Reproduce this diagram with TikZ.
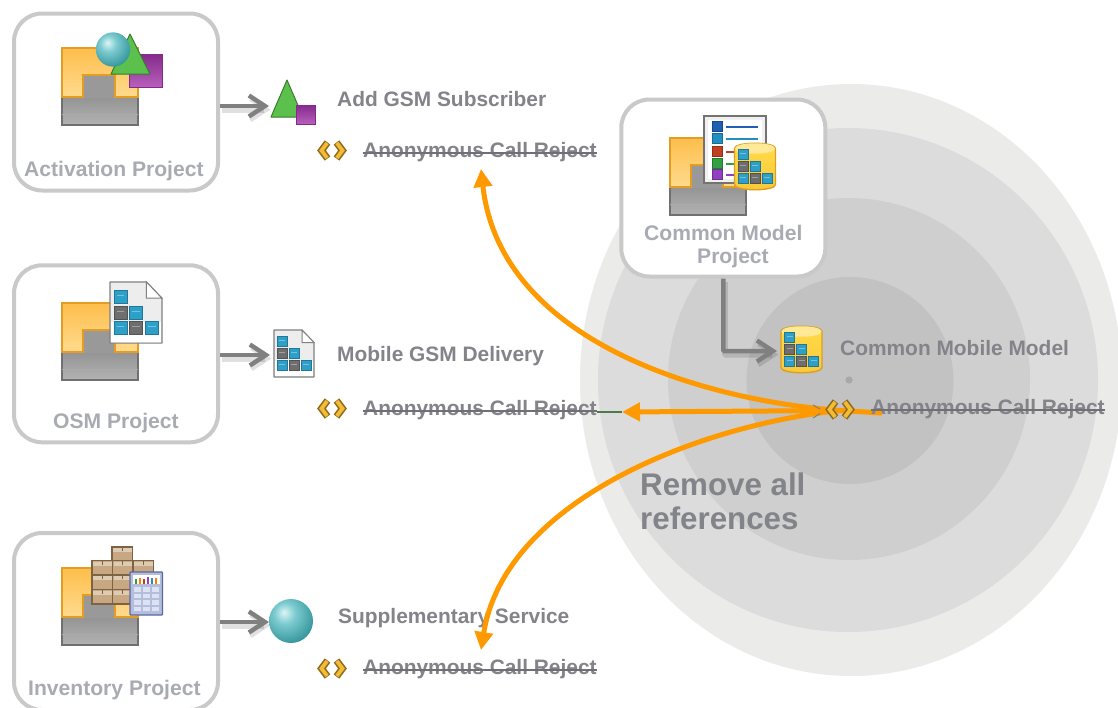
\documentclass[tikz,border=0pt]{standalone}
\usepackage{fontspec}
\setmainfont{Liberation Sans}
\usetikzlibrary{arrows.meta}
\definecolor{ringa}{HTML}{EBEBEA}
\definecolor{ringb}{HTML}{DCDCDC}
\definecolor{ringc}{HTML}{CFCFCF}
\definecolor{ringd}{HTML}{C2C2C2}
\definecolor{boxline}{HTML}{C9C9C9}
\definecolor{lblc}{HTML}{83838A}
\definecolor{prjc}{HTML}{A9ABB2}
\definecolor{arrowc}{HTML}{808080}
\definecolor{orangec}{HTML}{FF9900}
\definecolor{cellb}{HTML}{2E9FC9}
\definecolor{cellg}{HTML}{6E6E6E}
\definecolor{purp}{HTML}{B860BC}
\definecolor{purpd}{HTML}{842A8C}
\definecolor{grn}{HTML}{5CC04C}
\definecolor{grnd}{HTML}{3A7A30}
\definecolor{tan}{HTML}{C8A882}
\definecolor{tand}{HTML}{7E6244}
\definecolor{sa}{HTML}{DDF5F5}
\definecolor{sb}{HTML}{7CCBD0}
\definecolor{sc}{HTML}{38989E}
\definecolor{sd}{HTML}{1F7F85}
\definecolor{yeltop}{HTML}{FDBE4C}
\definecolor{yelbot}{HTML}{FFDB8E}
\definecolor{yelline}{HTML}{E49C22}
\definecolor{tagd}{HTML}{8C6A1E}
\definecolor{tagg}{HTML}{F4BC34}
\definecolor{cyltop}{HTML}{FFE896}
\definecolor{cylmid}{HTML}{FFDC48}
\definecolor{cylbot}{HTML}{FBC838}
\definecolor{cylline}{HTML}{D9A024}
\definecolor{calcf}{HTML}{B4BEDC}
\definecolor{calcl}{HTML}{5A68A0}
\definecolor{calck}{HTML}{DCE2F2}
\definecolor{rowa}{HTML}{1F5FB4}
\definecolor{rowb}{HTML}{2090C0}
\definecolor{rowc}{HTML}{C04020}
\definecolor{rowd}{HTML}{30A040}
\definecolor{rowe}{HTML}{9040C0}
\pgfdeclareradialshading{sphereshade}{\pgfpoint{-8bp}{10bp}}{color(0bp)=(sa); color(12bp)=(sb); color(32bp)=(sc); color(50bp)=(sd); color(100bp)=(sd)}
\newcommand{\mycell}[3]{\draw[draw=#3!75!black,fill=#3,line width=.8pt] (#1,#2) rectangle +(10,10);
  \draw[draw=white,opacity=.35,line width=.8pt] (#1+2,#2+4) -- +(6,0);}
\tikzset{
  projbox/.style={draw=boxline,line width=4pt,fill=white,rounded corners=28pt,minimum width=204pt,minimum height=177pt,inner sep=0pt,outer sep=2pt},
  iconslot/.style={inner sep=0pt,outer sep=0pt,minimum width=#1,minimum height=40pt},
  lbl/.style={anchor=base west,inner sep=0pt,text=lblc,font=\bfseries\fontsize{20.9}{24}\selectfont},
  prj/.style={anchor=base west,inner sep=0pt,text=prjc,font=\bfseries\fontsize{21.1}{24}\selectfont},
  bigl/.style={anchor=base west,inner sep=0pt,text=lblc,font=\bfseries\fontsize{31.3}{36}\selectfont},
  strike/.style={draw=lblc!85!black,line width=1.3pt},
  flowarrow/.style={draw=arrowc,line width=4.5pt,-{Straight Barb[length=16pt,width=21pt,line width=4.5pt]},
    preaction={draw=black,opacity=.12,line width=6pt,transform canvas={shift={(1.5pt,-3.5pt)}}}},
  orangearrow/.style={draw=orangec,line width=5pt,-{Triangle[length=18pt,width=18pt]}},
  pbase/.pic={
    \draw[draw=none,top color=black!42,bottom color=black!30] (0,49) rectangle (76,77);
    \draw[draw=black!56,line width=1.4pt] (0,49) -- (0,77) -- (76,77) -- (76,49);
    \fill[black!40] (21,27) rectangle (53,50);
    \draw[draw=black!33,line width=1pt] (0,66) -- (76,66);
    \draw[draw=none,top color=yeltop,bottom color=yelbot] (0,0) -- (76,0) -- (76,49) -- (53,49) -- (53,27) -- (21,27) -- (21,49) -- (0,49) -- cycle;
    \draw[draw=yelline,line width=1.3pt,line join=miter] (0,0) -- (76,0) -- (76,49) -- (53,49) -- (53,27) -- (21,27) -- (21,49) -- (0,49) -- cycle;
  },
  pball/.pic={\path[shading=sphereshade] (0,0) circle (22);},
  ptri/.pic={\draw[draw=grnd,fill=grn,line width=1pt,line join=round] (0,-18.5) -- (16,18.5) -- (-16,18.5) -- cycle;},
  psq/.pic={\draw[draw=purpd,line width=1pt,top color=purpd,bottom color=purp] (-9.5,-9.5) rectangle (9.5,9.5);},
  pdoc/.pic={
    \draw[draw=black!50,fill=black!7,line width=1.1pt,line join=round] (-20,-23.5) -- (8,-23.5) -- (20,-11) -- (20,23.5) -- (-20,23.5) -- cycle;
    \fill[white] (-19.4,7) rectangle (19.4,22.9);
    \draw[draw=black!50,fill=white,line width=1pt] (8,-23.5) -- (8,-11) -- (20,-11) -- cycle;
    \mycell{-17}{-17}{cellb}
    \mycell{-17}{-5}{cellg} \mycell{-5}{-5}{cellb}
    \mycell{-17}{7}{cellb} \mycell{-5}{7}{cellg} \mycell{7}{7}{cellb}
  },
  pcyl/.pic={
    \draw[draw=cylline,line width=1.4pt,top color=cylmid,bottom color=cylbot]
      (-20.5,-18) -- (-20.5,18) .. controls (-20.5,25) and (20.5,25) .. (20.5,18) -- (20.5,-18) .. controls (20.5,-25) and (-20.5,-25) .. (-20.5,-18) -- cycle;
    \fill[cyltop] (-20,-18) .. controls (-20,-11) and (20,-11) .. (20,-18) .. controls (20,-25) and (-20,-25) .. (-20,-18) -- cycle;
    \mycell{-17}{-17}{cellb}
    \mycell{-17}{-5}{cellg} \mycell{-5}{-5}{cellb}
    \mycell{-17}{7}{cellb} \mycell{-5}{7}{cellg} \mycell{7}{7}{cellb}
  },
  ptag/.pic={
    \draw[draw=tagd,line width=7pt,line join=miter] (-4.5,-8) -- (-10.5,0) -- (-4.5,8);
    \draw[draw=tagd,line width=7pt,line join=miter] (4.5,-8) -- (10.5,0) -- (4.5,8);
    \draw[draw=tagg,line width=3.8pt,line join=miter] (-4.9,-7.4) -- (-10.5,0) -- (-4.9,7.4);
    \draw[draw=tagg,line width=3.8pt,line join=miter] (4.9,-7.4) -- (10.5,0) -- (4.9,7.4);
  },
  pcrate/.pic={
    \draw[draw=tand,fill=tan,line width=1.1pt] (0,0) rectangle (20.5,14.5);
    \fill[tan!60!white] (1,1) rectangle (19.5,5);
    \draw[draw=tand,line width=1pt] (10.2,.5) -- (10.2,4);
  },
}
\begin{document}
\begin{tikzpicture}[x=1pt,y=-1pt]
\clip (0,0) rectangle (1118,707);
\fill[white] (0,0) rectangle (1118,707);
% rings
\fill[ringa] (851,380) ellipse [x radius=271,y radius=296];
\fill[ringb] (848,380) ellipse [x radius=250,y radius=252];
\fill[ringc] (849,379) circle (181);
\fill[ringd] (850,380.5) circle (103.5);
\fill[black!34] (849,380) circle (3.6);

% project boxes
\node[projbox] (actbox) at (116,102) {};
\node[projbox] (osmbox) at (116,353.8) {};
\node[projbox] (invbox) at (116,621.5) {};
\node[projbox] (combox) at (723.3,188) {};

% icon slots
\node[iconslot=48pt] (gsmicon) at (293,106) {};
\node[iconslot=48pt] (docicon) at (294,355) {};
\node[iconslot=44pt] (ballicon) at (291,622) {};
\node[iconslot=49pt] (cylicon) at (801.5,351) {};

% connectors
\draw[flowarrow] (actbox.east |- gsmicon.west) -- (gsmicon.west);
\draw[flowarrow] (osmbox.east |- docicon.west) -- (docicon.west);
\draw[flowarrow] (invbox.east |- ballicon.west) -- (ballicon.west);
\draw[flowarrow,rounded corners=1pt] (combox.south) |- (cylicon.west);

% activation icon
\pic at (62,48) {pbase};
\draw[draw=purpd,line width=1pt,top color=purpd,bottom color=purp] (129,54) rectangle (162,87);
\draw[draw=grnd,fill=grn,line width=1pt,line join=round] (130,34) -- (150,74) -- (111,74) -- cycle;
\pic[scale=.78] at (113,49.5) {pball};
\pic at (287,98.5) {ptri};
\pic at (305.5,114.5) {psq};

% osm icon
\pic at (62,303) {pbase};
\pic[scale=1.3] at (136,312.5) {pdoc};
\pic at (294,353.5) {pdoc};

% inventory icon
\pic at (62,568) {pbase};
\pic at (112,547) {pcrate};
\pic at (92,560.5) {pcrate};
\pic at (112.5,560.5) {pcrate};
\pic at (133,560.5) {pcrate};
\pic at (92,575) {pcrate};
\pic at (112.5,575) {pcrate};
\pic at (133,575) {pcrate};
\pic at (92,589.5) {pcrate};
\pic at (112.5,589.5) {pcrate};
\draw[draw=calcl,fill=calcf,line width=1.3pt,rounded corners=.8pt] (130,572) rectangle (162.5,615);
\fill[white] (133,575) rectangle (159.5,584);
\fill[rowd] (135,579) rectangle (137,583.5);
\fill[orange] (139,577.5) rectangle (141,583.5);
\fill[rowc] (143,578.5) rectangle (145,583.5);
\fill[rowe] (147,576.5) rectangle (149,583.5);
\fill[rowb] (151,577.5) rectangle (153,583.5);
\fill[orange] (155,578) rectangle (157,583.5);
\foreach \kx in {134,143,152} \foreach \ky in {587,593.5,600,606.5} \fill[calck] (\kx,\ky) rectangle +(7,4.5);
\pic at (291,621) {pball};

% common icon
\pic at (670,138) {pbase};
\draw[draw=black!55,fill=black!6,line width=1.3pt] (704,116) rectangle (766,183);
\fill[white] (708,120) rectangle (762,179);
\foreach \ry/\rc in {121/rowa,133/rowb,146/rowc,158/rowd,169/rowe}{
  \draw[draw=\rc!75!black,fill=\rc,line width=.8pt] (712,\ry) rectangle +(10,10);
  \draw[draw=\rc,line width=2pt] (726,\ry+5.5) -- (758,\ry+5.5);}
\pic at (755,166.5) {pcyl};
\pic at (801.5,349.5) {pcyl};

% texts
\node[prj] (actlbl) at (24,176) {Activation Project};
\node[prj] (osmlbl) at (53,428) {OSM Project};
\node[prj] (invlbl) at (28,695) {Inventory Project};
\node[prj] (comlbla) at (644,240) {Common Model};
\node[prj] (comlblb) at (697,263) {Project};

\node[lbl] (addlbl) at (337,106) {Add GSM Subscriber};
\node[lbl] (mobilelbl) at (337,361) {Mobile GSM Delivery};
\node[lbl] (supplbl) at (338,623) {Supplementary Service};
\node[lbl] (cmmlbl) at (840,355) {Common Mobile Model};

\node[bigl] (remlbla) at (640,495) {Remove all};
\node[bigl] (remlblb) at (640,529) {references};

% hub and tips
\node[inner sep=0pt,minimum size=1pt] (hub) at (840,410.5) {};
\coordinate (tipa) at (481,169);
\coordinate (tipb) at (622,412);
\coordinate (tipc) at (481,650);
\coordinate (stub) at (882,413);
\draw[draw=orangec,line width=5pt] (hub.center) -- (stub);

\node[lbl] (anona) at (363,157) {Anonymous Call Reject};
\node[lbl] (anonb) at (363,415) {Anonymous Call Reject};
\node[lbl] (anonc) at (363,674) {Anonymous Call Reject};
\node[lbl] (anond) at (871,414) {Anonymous Call Reject};
\draw[strike] ([yshift=4pt]anona.base west) -- ([yshift=4pt]anona.base east);
\draw[strike] ([yshift=4pt]anonb.base west) -- ([yshift=4pt]anonb.base east);
\draw[strike] ([yshift=4pt]anonc.base west) -- ([yshift=4pt]anonc.base east);
\draw[strike] ([yshift=4pt]anond.base west) -- ([yshift=4pt]anond.base east);
\draw[draw=black!55!green!40!gray,line width=1.2pt] (anonb.base east |- tipb) -- (tipb);

% orange flows
\draw[orangearrow] (hub.center) .. controls (700,400) and (500,340) .. (tipa);
\draw[orangearrow] (hub.center) -- (tipb);
\draw[orangearrow] (hub.center) .. controls (700,425) and (505,500) .. (tipc);

\draw[draw=black!50,line width=1pt] (813,405) -- (820,409);
\draw[draw=black!50,line width=1pt] (813,418) -- (820,413.5);

% tags
\pic at (332,150.5) {ptag};
\pic at (332,408.5) {ptag};
\pic at (332,668.5) {ptag};
\pic at (840,409.5) {ptag};
\end{tikzpicture}
\end{document}
